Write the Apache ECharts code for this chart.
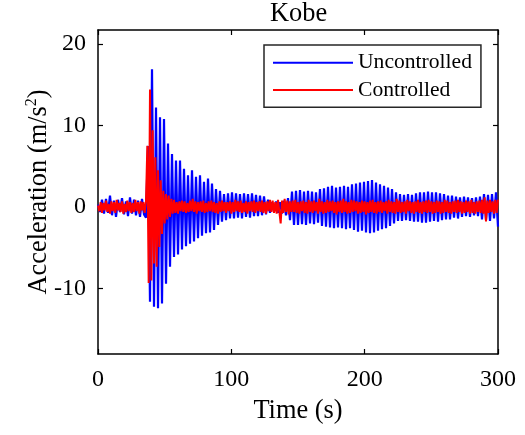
<!DOCTYPE html>
<html>
<head>
<meta charset="utf-8">
<script src="https://cdn.jsdelivr.net/npm/echarts@6/dist/echarts.min.js"></script>
<style>
  html, body { margin: 0; padding: 0; background: #fff; }
  #chart { width: 525px; height: 435px; }
</style>
</head>
<body>
<div id="chart"></div>
<script>
// ---- Data ----
const title = 'Kobe';
const seriesNames = ['Uncontrolled', 'Controlled'];
const xTickLabels = [0, 100, 200, 300];
const yTickLabels = [-10, 0, 10, 20];

// Uncontrolled response: oscillation extremes, one every 1.5 s from t = 0 s
const uncontrolledStart = 0;
const uncontrolledStep = 1.5;
const uncontrolled = [
  0.3, -0.6, 0.9, -0.8, 1.0, -0.7, 1.4, -1.0, 0.8, -1.2,
  0.9, -0.6, 1.1, -0.9, 0.7, -1.1, 1.2, -0.8, 0.9, -1.0,
  0.8, -1.2, 1.0, -0.9, -1.3, 7.5, -11.6, 16.9, -12.2, 12.2,
  -12.4, 11.0, -11.8, 10.8, -9.4, 7.8, -7.3, 6.5, -6.1, 5.7,
  -5.8, 5.7, -5.2, 4.7, -4.8, 3.9, -4.5, 4.5, -4.2, 3.7,
  -3.8, 3.9, -3.5, 3.1, -3.2, 3.5, -3.1, 2.9, -2.8, 2.2,
  -2.2, 2.0, -1.8, 1.6, -1.6, 1.7, -1.4, 1.8, -1.4, 1.7,
  -1.3, 1.6, -1.4, 1.7, -1.2, 1.6, -1.3, 1.7, -1.1, 1.5,
  -1.1, 1.4, -1.0, 1.3, -0.9, 0.9, -0.7, 0.6, -0.6, 0.7,
  -0.7, 0.6, -0.8, 0.8, -1.0, 1.1, -1.6, 1.9, -2.2, 2.0,
  -2.2, 2.1, -2.1, 1.9, -2.2, 2.0, -2.0, 1.9, -2.1, 1.8,
  -1.9, 2.2, -2.3, 2.3, -2.4, 2.5, -2.5, 2.6, -2.6, 2.4,
  -2.5, 2.5, -2.6, 2.6, -2.7, 2.5, -2.6, 2.8, -2.8, 2.9,
  -3.0, 3.0, -2.9, 3.1, -3.1, 3.2, -3.2, 3.3, -3.1, 3.0,
  -2.9, 2.8, -2.7, 2.6, -2.6, 2.4, -2.3, 2.2, -2.0, 1.8,
  -1.7, 1.6, -1.7, 1.5, -1.6, 1.6, -1.7, 1.5, -1.8, 1.7,
  -1.8, 1.8, -1.9, 1.8, -1.9, 1.9, -1.8, 1.8, -1.7, 1.8,
  -1.8, 1.7, -1.6, 1.6, -1.5, 1.4, -1.5, 1.4, -1.3, 1.3,
  -1.4, 1.2, -1.2, 1.3, -1.1, 1.2, -1.2, 1.1, -1.0, 1.2,
  -1.1, 1.3, -1.5, 1.6, -1.6, 1.5, -1.7, 1.6, -1.4, 1.8,
  -2.4
];

// Controlled response: values every 1 s from t = 0 s
const controlledStart = 0;
const controlledStep = 1;
const controlled = [
  0.2, -0.5, 0.6, -0.7, 0.5, -0.4, 0.8, -0.6, 0.4, -0.8,
  0.7, -0.5, 0.6, -0.7, 0.9, -0.4, 0.5, -0.6, 0.7, -0.8,
  0.4, -0.6, 0.8, -0.5, 0.6, -0.7, 0.5, -0.6, 0.9, -0.5,
  0.6, -0.8, 0.7, -0.4, 0.6, -0.7,
  0.8, 7.5, -9.3, 14.4, -9.0, 9.4, -6.9, 6.1, -7.3, 4.5,
  -4.9, 3.3, -3.3, 2.0, -2.0, 1.6, -1.5, 1.4, -1.2, 1.0,
  -0.8, 0.9, -0.7, 0.6, -0.8, 0.7, -0.5, 0.8, -0.6, 0.7,
  -0.7, 0.5, -0.6, 0.8, -0.5, 1.0, -0.6, 0.7, -0.8, 0.6,
  -0.5, 0.7, -0.6, 0.8, -0.7, 0.5, -0.6, 0.7, -0.5, 0.8,
  -0.6, 0.6, -0.7, 0.5, -0.8, 0.7, -0.6, 0.8, -0.5, 0.6,
  -0.7, 0.6, -0.5, 0.7, -0.8, 0.6, -0.6, 0.9, -0.5, 0.7,
  -0.6, 0.8, -0.7, 0.5, -0.6, 0.7, -0.8, 0.6, -0.5, 0.7,
  -0.6, 0.8, -0.7, 0.6, -0.5, 0.7, -0.6, 0.8, -0.7, 0.6,
  -0.8, 0.7, -0.5, 0.9, -0.6, 0.8, -0.7, 0.6, -0.8, 0.9,
  0.7, -2.0, 0.8, -0.7, 1.0, -0.6, 0.8, -0.9, 0.7, -0.6,
  0.8, -0.6, 0.9, -0.7, 0.6, -0.8, 0.7, -0.5, 0.8, -0.7,
  0.6, -0.8, 0.9, -0.6, 0.7, -0.7, 0.8, -0.5, 0.6, -0.8,
  1.0, -0.6, 0.7, -0.8, 0.6, -0.7, 0.9, -0.6, 0.7, -0.5,
  0.8, -0.7, 0.6, -0.9, 0.7, -0.6, 0.8, -0.7, 1.0, -0.6,
  0.7, -0.8, 0.6, -0.7, 0.9, -0.6, 0.8, -0.5, 0.7, -0.8,
  0.6, -0.7, 0.8, -0.6, 0.7, -0.9, 0.6, -0.7, 0.8, -0.6,
  0.9, -0.7, 0.6, -0.8, 0.7, -0.6, 0.8, -0.7, 0.6, -0.5,
  0.7, -0.8, 0.9, -0.6, 0.7, -0.7, 0.6, -0.8, 1.0, -0.6,
  0.8, -0.7, 0.6, -0.6, 0.7, -0.8, 0.9, -0.5, 0.7, -0.7,
  0.6, -0.8, 0.7, -0.6, 0.9, -0.7, 0.6, -0.8, 0.7, -0.6,
  0.8, -0.7, 0.9, -0.6, 0.7, -0.8, 0.6, -0.7, 0.8, -0.6,
  0.7, -0.8, 0.6, -0.7, 0.9, -0.6, 0.8, -0.7, 0.6, -0.8,
  0.7, -0.6, 0.8, -0.7, 0.9, -0.6, 0.7, -0.8, 0.6, -0.7,
  0.8, -0.6, 0.7, -0.8, 0.9, -0.7, 0.6, -0.8, 0.7, -0.6,
  0.8, -0.7, 0.9, -0.8, 1.2, -1.75, 0.8, -0.7, 0.9, -0.6,
  0.7, -0.8, 0.9, -0.7, 0.9
];

// ---- Build series ----
function toPairs(values, start, step) {
  return values.map((v, i) => [start + i * step, v]);
}

const FONT = "'Liberation Serif', 'Times New Roman', serif";
const chart = echarts.init(document.getElementById('chart'), null, { renderer: 'canvas' });

const baseXAxis = {
  type: 'value', min: 0, max: 300, interval: 100,
  axisLine: { show: true, onZero: false, lineStyle: { color: '#000', width: 1.5 } },
  axisTick: { show: true, inside: true, length: 5, lineStyle: { color: '#000', width: 1.2 } },
  splitLine: { show: false }
};
const baseYAxis = {
  type: 'value', min: -18, max: 21.7,
  axisLine: { show: true, onZero: false, lineStyle: { color: '#000', width: 1.5 } },
  axisTick: { show: true, inside: true, length: 5, customValues: yTickLabels, lineStyle: { color: '#000', width: 1.2 } },
  splitLine: { show: false }
};

chart.setOption({
  animation: false,
  backgroundColor: '#fff',
  title: {
    text: title, left: 270, top: 1, padding: 0,
    textStyle: { fontFamily: FONT, fontSize: 26.4, fontWeight: 'normal', color: '#000' }
  },
  grid: { left: 98, right: 27, top: 30, bottom: 81, containLabel: false },
  legend: {
    data: seriesNames.map(n => ({ name: n, icon: 'rect' })),
    orient: 'vertical', left: 264, top: 45,
    itemWidth: 80, itemHeight: 2, itemGap: 3.3,
    padding: [5.7, 9, 5.3, 9],
    borderColor: '#262626', borderWidth: 1.5, backgroundColor: '#fff',
    textStyle: { fontFamily: FONT, fontSize: 21.6, color: '#000', lineHeight: 24 },
    selectedMode: false
  },
  xAxis: [
    Object.assign({}, baseXAxis, {
      position: 'bottom',
      name: 'Time (s)', nameLocation: 'middle', nameGap: 44, nameMoveOverlap: false,
      nameTextStyle: { fontFamily: FONT, fontSize: 26.4, color: '#000' },
      axisLabel: { show: true, margin: 14, fontFamily: FONT, fontSize: 24, color: '#000' }
    }),
    Object.assign({}, baseXAxis, { position: 'top', axisLabel: { show: false } })
  ],
  yAxis: [
    Object.assign({}, baseYAxis, {
      position: 'left',
      name: '{t|Acceleration (m/s}{s|2}{t|)}', nameLocation: 'middle', nameGap: 44, nameRotate: 90,
      nameMoveOverlap: false,
      nameTextStyle: {
        rich: {
          t: { fontFamily: FONT, fontSize: 26.4, color: '#000', lineHeight: 30 },
          s: { fontFamily: FONT, fontSize: 16, color: '#000', lineHeight: 30, padding: [0, 0, 14, 0] }
        }
      },
      axisLabel: { show: true, margin: 12, fontFamily: FONT, fontSize: 24, color: '#000', customValues: yTickLabels }
    }),
    Object.assign({}, baseYAxis, { position: 'right', axisLabel: { show: false } })
  ],
  series: [
    {
      name: seriesNames[0], type: 'line', xAxisIndex: 0, yAxisIndex: 0,
      data: toPairs(uncontrolled, uncontrolledStart, uncontrolledStep),
      showSymbol: false, symbol: 'none', sampling: null,
      lineStyle: { color: '#0000ff', width: 2.2 }, itemStyle: { color: '#0000ff' },
      z: 2
    },
    {
      name: seriesNames[1], type: 'line', xAxisIndex: 0, yAxisIndex: 0,
      data: toPairs(controlled, controlledStart, controlledStep),
      showSymbol: false, symbol: 'none', sampling: null,
      lineStyle: { color: '#ff0000', width: 2 }, itemStyle: { color: '#ff0000' },
      z: 3
    }
  ]
});
</script>
</body>
</html>
